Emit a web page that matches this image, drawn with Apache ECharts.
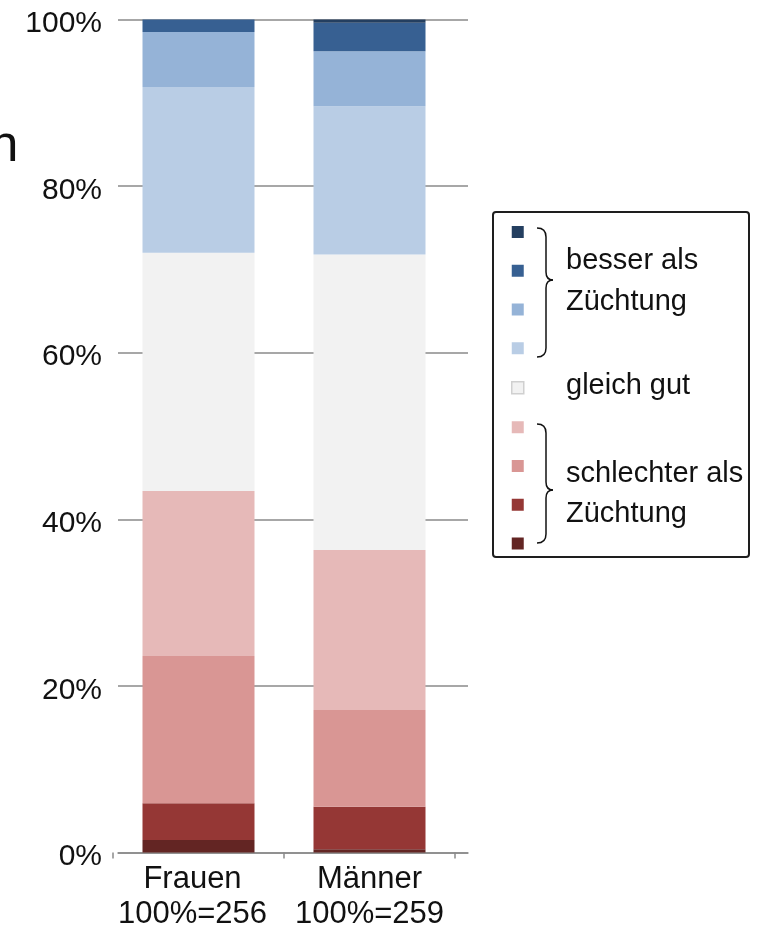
<!DOCTYPE html>
<html>
<head>
<meta charset="utf-8">
<title>Bewertung im Vergleich zur Züchtung</title>
<script src="https://cdn.jsdelivr.net/npm/echarts@6/dist/echarts.min.js"></script>
<style>
  html, body { margin: 0; padding: 0; background: #ffffff; }
  #chart { width: 759px; height: 933px; }
</style>
</head>
<body>
<div id="chart"></div>
<script>
// Groups along the x axis and their sample sizes
const categories = ['Frauen', 'Männer'];
const sampleSizes = ['100%=256', '100%=259'];

// Answer levels, stacked from the bottom (strongly worse) to the top (strongly better)
const levelNames = ['schlechter 4', 'schlechter 3', 'schlechter 2', 'schlechter 1', 'gleich gut',
                    'besser 1', 'besser 2', 'besser 3', 'besser 4'];

// Share of answers per level, in percent
const frauenShares = [1.5, 4.4, 17.7, 19.8, 28.6, 19.9, 6.6, 1.5, 0];
const maennerShares = [0.4, 5.1, 11.6, 19.2, 35.5, 17.8, 6.6, 3.4, 0.4];

// Value axis ticks
const yTicks = [0, 20, 40, 60, 80, 100];

// Fill colour of each level (same order as levelNames)
const levelColors = ['#632523', '#953735', '#d99694', '#e6b9b8', '#f2f2f2',
                     '#b9cde5', '#95b3d7', '#376092', '#243f60'];

// Legend wording with the brackets that group the levels
const legendTexts = [
  { text: 'besser als', y: 261 },
  { text: 'Züchtung', y: 302 },
  { text: 'gleich gut', y: 386 },
  { text: 'schlechter als', y: 474 },
  { text: 'Züchtung', y: 514 }
];

const FONT = '"Liberation Sans", Arial, Helvetica, sans-serif';
const GRID_TOP = 19.5;
const GRID_BOTTOM = 933 - 852.5;
const GRAY = '#8a8a8a';

// Curly bracket built from curves and straight pieces
function brace(top, tip, bottom) {
  const x0 = 537, xs = 546, xt = 553;
  const st = { fill: 'none', stroke: '#111111', lineWidth: 1.5 };
  const curve = function (x1, y1, cx, cy, x2, y2) {
    return { type: 'bezierCurve', shape: { x1: x1, y1: y1, cpx1: cx, cpy1: cy, x2: x2, y2: y2 }, style: st };
  };
  const line = function (x1, y1, x2, y2) {
    return { type: 'line', shape: { x1: x1, y1: y1, x2: x2, y2: y2 }, style: st };
  };
  return [
    curve(x0, top, xs, top, xs, top + 9),
    line(xs, top + 9, xs, tip - 8),
    curve(xs, tip - 8, xs, tip, xt, tip),
    curve(xt, tip, xs, tip, xs, tip + 8),
    line(xs, tip + 8, xs, bottom - 9),
    curve(xs, bottom - 9, xs, bottom, x0, bottom)
  ];
}

const chart = echarts.init(document.getElementById('chart'), null, { renderer: 'canvas' });

const series = levelNames.map(function (name, i) {
  return {
    name: name,
    type: 'bar',
    stack: 'total',
    xAxisIndex: 1,
    yAxisIndex: 1,
    barWidth: 112,
    itemStyle: { color: levelColors[i] },
    emphasis: { disabled: true },
    data: [frauenShares[i], maennerShares[i]]
  };
});

const option = {
  animation: false,
  backgroundColor: '#ffffff',
  grid: [
    // frame carrying gridlines, value labels and the baseline
    { left: 118, right: 759 - 468, top: GRID_TOP, bottom: GRID_BOTTOM },
    // frame carrying the bars and the group labels
    { left: 113, right: 759 - 455, top: GRID_TOP, bottom: GRID_BOTTOM }
  ],
  xAxis: [
    {
      gridIndex: 0,
      type: 'value',
      min: 0,
      max: 1,
      axisLine: { show: true, onZero: false, lineStyle: { color: GRAY, width: 1.5 } },
      axisTick: { show: false },
      axisLabel: { show: false },
      splitLine: { show: false }
    },
    {
      gridIndex: 1,
      type: 'category',
      data: categories.map(function (c, i) {
        return i === 0 ? { value: c, textStyle: { padding: [0, 12, 0, 0] } } : c;
      }),
      axisLine: { show: false },
      axisTick: { show: true, length: 6, lineStyle: { color: GRAY, width: 1.5 } },
      axisLabel: {
        interval: 0,
        hideOverlap: false,
        margin: 9,
        fontFamily: FONT,
        fontSize: 31,
        lineHeight: 35,
        color: '#111111',
        formatter: function (value, index) {
          return value + '\n' + sampleSizes[index];
        }
      }
    }
  ],
  yAxis: [
    {
      gridIndex: 0,
      type: 'value',
      min: yTicks[0],
      max: yTicks[yTicks.length - 1],
      interval: yTicks[1] - yTicks[0],
      axisLine: { show: false },
      axisTick: { show: false },
      axisLabel: {
        margin: 16,
        fontFamily: FONT,
        fontSize: 30,
        color: '#111111',
        verticalAlign: 'top',
        lineHeight: 9,
        formatter: '{value}%'
      },
      splitLine: { show: true, lineStyle: { color: GRAY, width: 1.5 } }
    },
    {
      gridIndex: 1,
      type: 'value',
      min: yTicks[0],
      max: yTicks[yTicks.length - 1],
      show: false
    }
  ],
  legend: {
    orient: 'vertical',
    left: 511,
    top: 226,
    padding: 0,
    itemWidth: 12,
    itemHeight: 12,
    itemGap: 26.75,
    icon: 'rect',
    selectedMode: false,
    data: levelNames.slice().reverse().map(function (name) {
      return name === 'gleich gut'
        ? { name: name, itemStyle: { borderColor: '#d0d0d0', borderWidth: 1.5 } }
        : name;
    }),
    formatter: function () { return ''; },
    textStyle: { fontSize: 8 }
  },
  graphic: [
    {
      type: 'rect',
      z: -1,
      shape: { x: 493, y: 212, width: 256, height: 345, r: 3 },
      style: { fill: 'none', stroke: '#1e1e1e', lineWidth: 2 }
    },
    {
      type: 'text',
      style: { x: 18.5, y: 147, text: 'n', font: '52px ' + FONT, fill: '#111111', textAlign: 'right', textVerticalAlign: 'middle' }
    }
  ].concat(brace(228, 280, 357), brace(424, 490, 543), legendTexts.map(function (t) {
    return {
      type: 'text',
      style: {
        x: 566, y: t.y, text: t.text,
        font: '29px ' + FONT, fill: '#111111',
        textAlign: 'left', textVerticalAlign: 'middle'
      }
    };
  })),
  series: series
};

chart.setOption(option);
</script>
</body>
</html>
